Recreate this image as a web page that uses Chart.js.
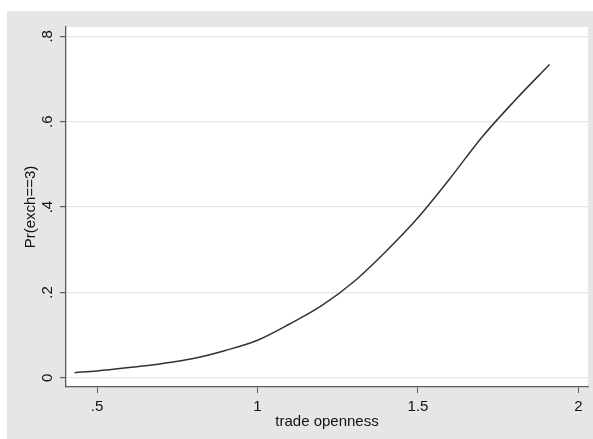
<!DOCTYPE html>
<html>
<head>
<meta charset="utf-8">
<script src="https://cdn.jsdelivr.net/npm/chart.js@4/dist/chart.umd.min.js"></script>
<style>
  html, body { margin: 0; padding: 0; background: #fff; }
  #wrap { width: 593px; height: 439px; }
</style>
</head>
<body>
<div id="wrap"><canvas id="chart" width="593" height="439"></canvas></div>
<script>
// values
const tradeOpenness = [0.43, 0.5, 0.6, 0.7, 0.8, 0.9, 1.0, 1.1, 1.2, 1.3, 1.4, 1.5, 1.6, 1.7, 1.8, 1.91];
const probExch3 = [0.012, 0.016, 0.024, 0.033, 0.045, 0.064, 0.088, 0.126, 0.169, 0.225, 0.296, 0.375, 0.467, 0.564, 0.648, 0.734];

const xTickValues = [0.5, 1, 1.5, 2];
const xTickLabels = ['.5', '1', '1.5', '2'];
const yTickValues = [0, 0.2, 0.4, 0.6, 0.8];
const yTickLabels = ['0', '.2', '.4', '.6', '.8'];

const xTitle = 'trade openness';
const yTitle = 'Pr(exch==3)';

const FONT = '15px "Liberation Sans", Arial, sans-serif';
const AXIS_COLOR = '#5a5a5a';

const points = tradeOpenness.map((x, i) => ({ x: x, y: probExch3[i] }));

// background panels + rotated labels, stata style
const stataFrame = {
    id: 'stataFrame',
    beforeDraw(chart) {
        const ctx = chart.ctx;
        const area = chart.chartArea;
        ctx.save();
        ctx.fillStyle = '#ffffff';
        ctx.fillRect(0, 0, chart.width, chart.height);
        ctx.fillStyle = '#e6e6e6';
        ctx.fillRect(7, 11, chart.width - 7, chart.height - 11);
        ctx.fillStyle = '#ffffff';
        ctx.fillRect(area.left, area.top, area.right - area.left, area.bottom - area.top);
        ctx.restore();
    },
    afterDraw(chart) {
        const ctx = chart.ctx;
        const area = chart.chartArea;
        const xs = chart.scales.x;
        const ys = chart.scales.y;
        ctx.save();
        ctx.fillStyle = '#111';
        ctx.font = FONT;

        // x tick labels
        ctx.textAlign = 'center';
        ctx.textBaseline = 'alphabetic';
        xTickValues.forEach((v, i) => {
            ctx.fillText(xTickLabels[i], xs.getPixelForValue(v), area.bottom + 24);
        });

        // x title
        ctx.fillText(xTitle, (area.left + area.right) / 2, 426);

        // y tick labels, rotated
        ctx.textBaseline = 'middle';
        yTickValues.forEach((v, i) => {
            ctx.save();
            ctx.translate(48, ys.getPixelForValue(v));
            ctx.rotate(-Math.PI / 2);
            ctx.fillText(yTickLabels[i], 0, 0);
            ctx.restore();
        });

        // y title
        ctx.save();
        ctx.translate(31, (area.top + area.bottom) / 2);
        ctx.rotate(-Math.PI / 2);
        ctx.fillText(yTitle, 0, 0);
        ctx.restore();

        ctx.restore();
    }
};

new Chart(document.getElementById('chart'), {
    type: 'line',
    data: {
        datasets: [{
            data: points,
            borderColor: '#333333',
            borderWidth: 1.5,
            pointRadius: 0,
            fill: false,
            cubicInterpolationMode: 'monotone'
        }]
    },
    options: {
        responsive: false,
        animation: false,
        devicePixelRatio: 1,
        layout: { padding: { top: 27, right: 5, left: 0, bottom: 0 } },
        plugins: {
            legend: { display: false },
            tooltip: { enabled: false }
        },
        scales: {
            x: {
                type: 'linear',
                min: 0.4034,
                max: 2.030,
                afterBuildTicks: (scale) => {
                    scale.ticks = xTickValues.map(v => ({ value: v }));
                },
                afterFit: (scale) => { scale.height = 52; },
                ticks: { display: false },
                grid: {
                    drawOnChartArea: false,
                    drawTicks: true,
                    tickLength: 6,
                    tickColor: AXIS_COLOR
                },
                border: { display: true, color: AXIS_COLOR, width: 1.3 }
            },
            y: {
                type: 'linear',
                min: -0.0216,
                max: 0.8218,
                afterBuildTicks: (scale) => {
                    scale.ticks = yTickValues.map(v => ({ value: v }));
                },
                afterFit: (scale) => { scale.width = 66; },
                ticks: { display: false },
                grid: {
                    color: '#e6e6e6',
                    lineWidth: 1.2,
                    drawTicks: true,
                    tickLength: 6,
                    tickColor: AXIS_COLOR
                },
                border: { display: true, color: AXIS_COLOR, width: 1.3 }
            }
        }
    },
    plugins: [stataFrame]
});
</script>
</body>
</html>
